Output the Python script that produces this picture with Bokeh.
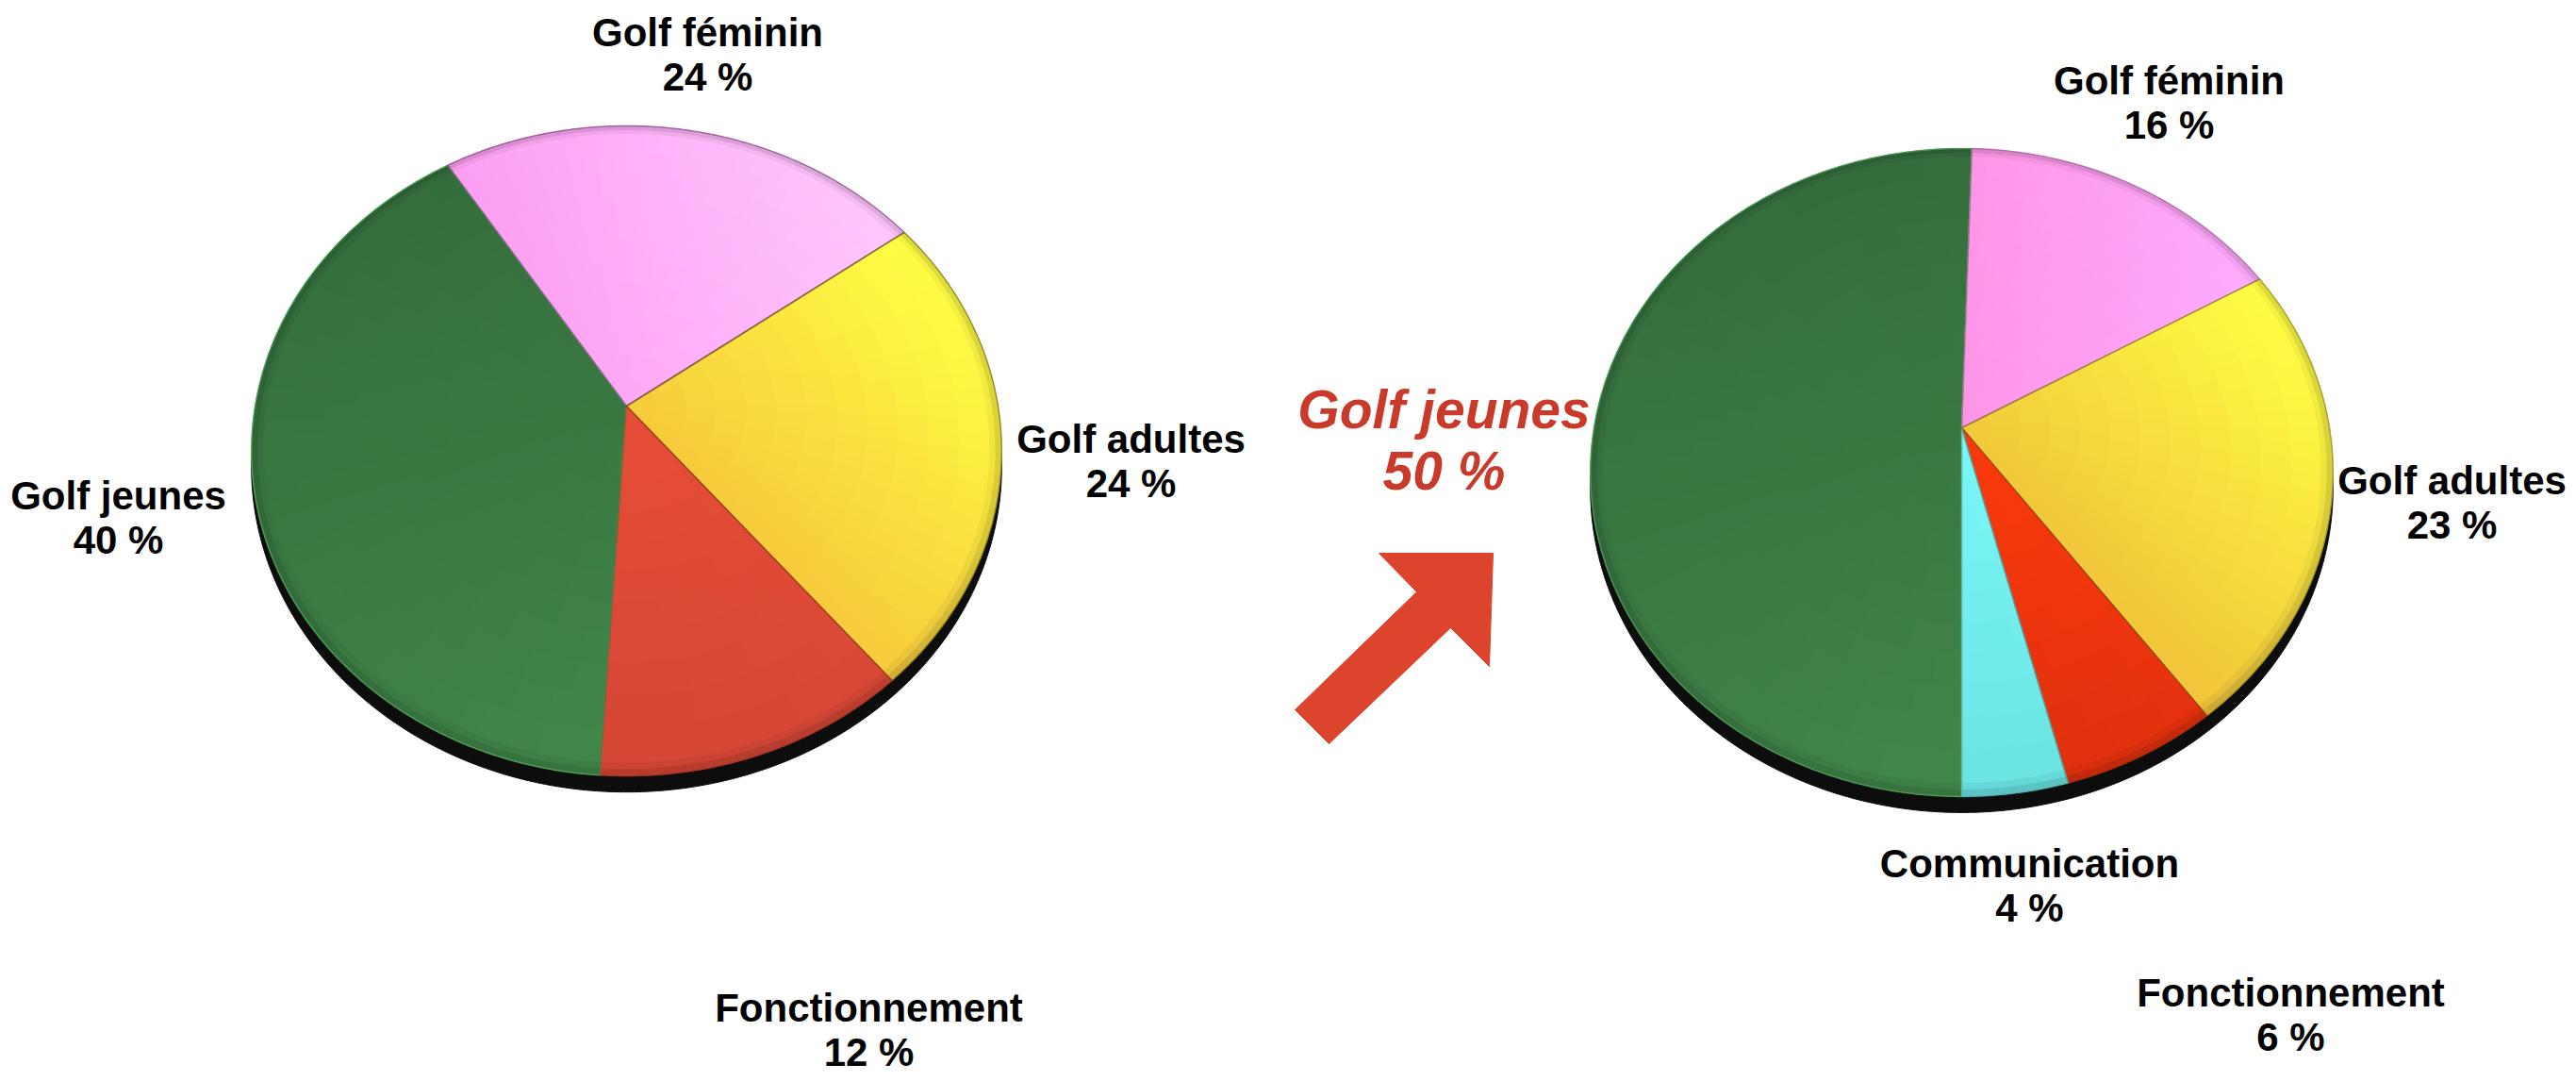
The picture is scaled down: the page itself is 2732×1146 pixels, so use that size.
import numpy as np
from bokeh.plotting import figure
from bokeh.models import Range1d, ColumnDataSource
from bokeh.core.properties import value
from bokeh.embed import file_html
from bokeh.resources import INLINE

# ---------------- data ----------------
left_labels = ["Golf jeunes", "Golf féminin", "Golf adultes", "Fonctionnement"]
left_values = [40, 24, 24, 12]
right_labels = ["Golf jeunes", "Golf féminin", "Golf adultes", "Fonctionnement", "Communication"]
right_values = [50, 16, 23, 6, 4]
highlight_label = "Golf jeunes"
highlight_value = 50

# ---------------- styles / layout ----------------
# (start colour, end colour, gradient direction in screen coords)
left_grad = [("#346c3c", "#41874a", (0.3, 1.0)),
             ("#fd9ef2", "#ffc8ff", (1.0, -0.3)),
             ("#f6ca3c", "#ffff44", (1.0, -1.0)),
             ("#e84e38", "#d44636", (0.0, 1.0))]
right_grad = [("#346c3c", "#41874a", (0.3, 1.0)),
              ("#fe95e6", "#ffacff", (1.0, 0.0)),
              ("#f0c43a", "#ffff44", (1.0, -1.0)),
              ("#fb3a0c", "#e0300f", (0.0, 1.0)),
              ("#7bf8f8", "#6ae2e2", (0.0, 1.0))]
left_lines = ["#5fc46a", "#7a3a75", "#6a5a10", "#a0301f"]
right_lines = ["#5fb86a", "#9a5a95", "#8a7a20", "#a02a0a", "#4ab0b0"]

W, H = 2732, 1146
FONT = "Arial"

# pie geometry: apex (x, y), scale, perspective k, foreshortening c, start angle (deg)
left_geom = dict(cx=664, cy=430, S=394, k=0.138, c=0.858, start=183.5)
right_geom = dict(cx=2080, cy=453, S=390, k=0.138, c=0.864, start=180.0)
SHADOW_DY = 17

# label anchor positions (centre of first line)
left_label_pos = [(125, 525), (750, 34), (1199, 465), (921, 1068)]
right_label_pos = [None, (2300, 85), (2600, 509), (2429, 1052), (2152, 915)]
LINE_GAP = 47
RINGS = list(np.linspace(0.0, 0.97, 13)) + [0.985, 1.0]
RIM_SHADE = {len(RINGS) - 2: 0.86, len(RINGS) - 3: 0.95}


def proj(theta_deg, r, g):
    t = np.radians(theta_deg)
    d = 1 + g["k"] * r * np.cos(t)
    x = g["cx"] + g["S"] * r * np.sin(t) / d
    y = g["cy"] - g["S"] * g["c"] * r * np.cos(t) / d
    return x, y


def angle_edges(values, g):
    vals = np.asarray(values, dtype=float)
    fr = vals / vals.sum()
    return g["start"] + 360.0 * np.concatenate([[0], np.cumsum(fr)])


def slices(values, g):
    edges = angle_edges(values, g)
    xs, ys = [], []
    for a0, a1 in zip(edges[:-1], edges[1:]):
        n = max(4, int((a1 - a0) * 2))
        th = np.linspace(a0, a1, n)
        rx, ry = proj(th, 1.0, g)
        xs.append([g["cx"]] + list(rx))
        ys.append([g["cy"]] + list(ry))
    return xs, ys


def hex2rgb(h):
    h = h.lstrip("#")
    return np.array([int(h[i:i + 2], 16) for i in (0, 2, 4)], dtype=float)


def rgb2hex(c):
    c = np.clip(np.round(c), 0, 255).astype(int)
    return "#%02x%02x%02x" % tuple(c)


def shading(values, g, grads):
    edges = angle_edges(values, g)
    xs, ys, cols = [], [], []
    for (a0, a1), (c0, c1, d) in zip(zip(edges[:-1], edges[1:]), grads):
        d = np.array(d, dtype=float)
        d /= np.linalg.norm(d)
        th = np.linspace(a0, a1, 60)
        bx, by = proj(th, 1.0, g)
        px = np.concatenate([[g["cx"]], bx])
        py = np.concatenate([[g["cy"]], by])
        proj_d = px * d[0] + py * d[1]
        lo, hi = proj_d.min(), proj_d.max()
        c0v, c1v = hex2rgb(c0), hex2rgb(c1)
        na = max(2, int(np.ceil((a1 - a0) / 3.0)))
        ts = np.linspace(a0, a1, na + 1)
        for j in range(na):
            for m in range(len(RINGS) - 1):
                r0, r1 = RINGS[m], RINGS[m + 1]
                qx, qy = [], []
                for (tt, rr) in [(ts[j], r0), (ts[j + 1], r0), (ts[j + 1], r1), (ts[j], r1)]:
                    x, y = proj(tt, rr, g)
                    qx.append(float(x)); qy.append(float(y))
                mx, my = np.mean(qx), np.mean(qy)
                f = (mx * d[0] + my * d[1] - lo) / (hi - lo + 1e-9)
                col = c0v + (c1v - c0v) * np.clip(f, 0, 1)
                col = col * RIM_SHADE.get(m, 1.0)
                xs.append(qx); ys.append(qy); cols.append(rgb2hex(col))
    return xs, ys, cols


p = figure(width=W, height=H, output_backend="svg", toolbar_location=None,
           x_range=Range1d(0, W), y_range=Range1d(H, 0),
           min_border=0, min_border_left=0, min_border_right=0,
           min_border_top=0, min_border_bottom=0)
p.axis.visible = False
p.grid.visible = False
p.outline_line_color = None
p.background_fill_color = "white"
p.border_fill_color = "white"

for vals, g, grads, lcols in [(left_values, left_geom, left_grad, left_lines),
                               (right_values, right_geom, right_grad, right_lines)]:
    # shadow / thickness
    th = np.linspace(0, 360, 361)
    sx, sy = proj(th, 1.0, g)
    p.patch(list(sx), list(np.asarray(sy) + SHADOW_DY), color="#0d0d0d")
    xs, ys = slices(vals, g)
    base = [rgb2hex((hex2rgb(a) + hex2rgb(b)) / 2) for a, b, _ in grads]
    src = ColumnDataSource(dict(xs=xs, ys=ys, fill=base, line=lcols))
    p.patches("xs", "ys", source=src, fill_color="fill", line_color=None)
    qx, qy, qc = shading(vals, g, grads)
    qsrc = ColumnDataSource(dict(xs=qx, ys=qy, c=qc))
    p.patches("xs", "ys", source=qsrc, fill_color="c", line_color="c", line_width=1.0)
    p.patches("xs", "ys", source=src, fill_color=None, line_color="line",
              line_width=1.5, line_alpha=0.6)

# labels
def add_labels(labels, values, positions):
    x, y1, y2, t1, t2 = [], [], [], [], []
    for lab, v, pos in zip(labels, values, positions):
        if pos is None:
            continue
        x.append(pos[0]); y1.append(pos[1]); y2.append(pos[1] + LINE_GAP)
        t1.append(lab); t2.append(f"{v} %")
    src = ColumnDataSource(dict(x=x, y1=y1, y2=y2, t1=t1, t2=t2))
    for yk, tk in [("y1", "t1"), ("y2", "t2")]:
        p.text("x", yk, text=tk, source=src, text_font=value(FONT),
               text_font_style="bold", text_font_size="42px", text_color="black",
               text_align="center", text_baseline="middle")

add_labels(left_labels, left_values, left_label_pos)
add_labels(right_labels, right_values, right_label_pos)

# highlighted label + arrow
hsrc = ColumnDataSource(dict(x=[1531, 1531], y=[433, 498],
                             t=[highlight_label, f"{highlight_value} %"]))
p.text("x", "y", text="t", source=hsrc, text_font=value(FONT),
       text_font_style="bold italic", text_font_size="57px", text_color="#c93a2b",
       text_align="center", text_baseline="middle")

arrow_x = [1373, 1502, 1462, 1583, 1579, 1538, 1409]
arrow_y = [752, 627, 586, 586, 706, 665, 788]
p.patch(arrow_x, arrow_y, color="#dd442e")

open("out.html", "w").write(file_html(p, INLINE))
